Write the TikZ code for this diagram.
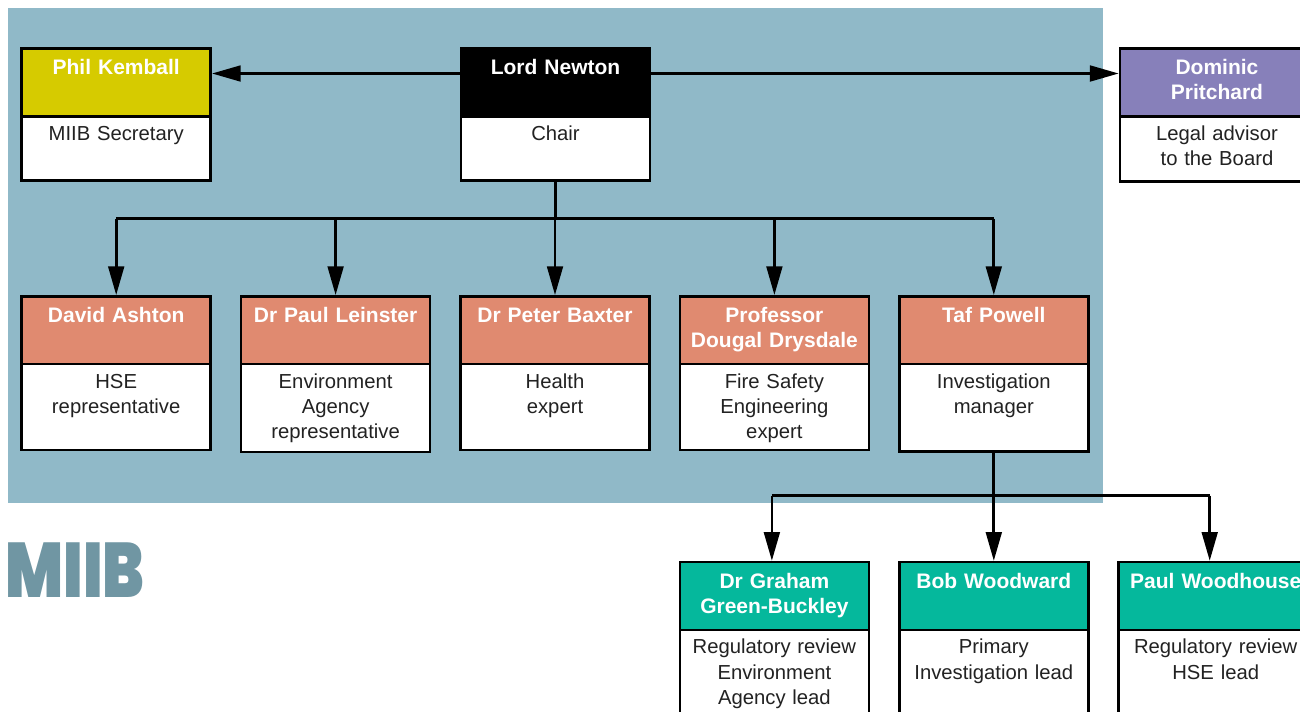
\documentclass[tikz,border=0pt]{standalone}
\usepackage{fontspec}
\setmainfont{Liberation Sans}
\newfontfamily\logofont[FakeStretch=0.79]{Poppins Black}
\usetikzlibrary{positioning,arrows.meta}
\definecolor{panelblue}{HTML}{90B9C8}
\definecolor{logoblue}{HTML}{7096A3}
\definecolor{chairblack}{HTML}{000000}
\definecolor{secyellow}{HTML}{D6CB00}
\definecolor{legalpurple}{HTML}{8780BA}
\definecolor{boardsalmon}{HTML}{E08A70}
\definecolor{leadteal}{HTML}{05B89C}
\definecolor{bodygrey}{HTML}{222222}

\begin{document}
\begin{tikzpicture}[x=0.75pt,y=-0.75pt,>={Triangle[length=21.5pt,width=11.8pt]},
    link/.style={line width=2pt},
    arrow/.style={link,->},
    namebox/.style={draw,line width=2pt,inner sep=0pt,text width=141.75pt,align=center,
        text=white,font=\bfseries\fontsize{15.75}{19}\selectfont,text height=19.5pt,text depth=31.3pt},
    rolebox/.style={draw,fill=white,line width=2pt,inner sep=0pt,text width=141.75pt,align=center,
        text=bodygrey,font=\fontsize{15.2}{19}\selectfont,text height=18.1pt,text depth=#1},
    rolebox/.default=46.4pt,
    lastcol/.style={text width=145.5pt}]
    \clip (0,0) rectangle (1300,711);
    \fill[panelblue] (8,8) rectangle (1103,503);

    % top row
    \node[namebox,fill=secyellow] (kemball) at (116.2,82.5) {Phil Kemball};
    \node[rolebox=29.9pt,below=-2pt of kemball] (kemballrole) {MIIB Secretary};
    \node[namebox,fill=chairblack,right=185.75pt of kemball] (newton) {Lord Newton};
    \node[rolebox=29.9pt,below=-2pt of newton] (newtonrole) {Chair};
    \node[namebox,lastcol,fill=legalpurple,right=350.45pt of newton] (pritchard) {Dominic\\Pritchard};
    \node[rolebox=30.6pt,lastcol,below=-2pt of pritchard] (pritchardrole) {Legal advisor\hspace*{4.5pt}\\to the Board};

    % board members
    \node[namebox,fill=boardsalmon,below=133pt of kemball] (ashton) {David Ashton};
    \node[rolebox,below=-2pt of ashton] (ashtonrole) {HSE\\representative};
    \node[namebox,fill=boardsalmon,right=20.8pt of ashton] (leinster) {Dr Paul Leinster};
    \node[rolebox=47.9pt,below=-2pt of leinster] (leinsterrole) {Environment\\Agency\\representative};
    \node[namebox,fill=boardsalmon,right=20.8pt of leinster] (baxter) {Dr Peter Baxter};
    \node[rolebox,below=-2pt of baxter] (baxterrole) {Health\hspace*{4.5pt}\\expert};
    \node[namebox,fill=boardsalmon,right=20.8pt of baxter] (drysdale) {Professor\hspace*{4.5pt}\\Dougal Drysdale};
    \node[rolebox,below=-2pt of drysdale] (drysdalerole) {Fire Safety\\Engineering\\expert};
    \node[namebox,fill=boardsalmon,right=20.8pt of drysdale] (powell) {Taf Powell};
    \node[rolebox=47.2pt,below=-2pt of powell] (powellrole) {Investigation\\manager};

    % investigation leads
    \node[namebox,fill=leadteal,below=146.5pt of drysdale] (green) {Dr Graham\\Green-Buckley};
    \node[rolebox=75pt,below=-2pt of green] (greenrole) {Regulatory review\\Environment\hspace*{4.5pt}\\Agency lead};
    \node[namebox,fill=leadteal,right=20.8pt of green] (woodward) {Bob Woodward};
    \node[rolebox=75pt,below=-2pt of woodward] (woodwardrole) {Primary\\Investigation lead};
    \node[namebox,lastcol,fill=leadteal,right=20.8pt of woodward] (woodhouse) {Paul Woodhouse};
    \node[rolebox=75pt,lastcol,below=-2pt of woodhouse] (woodhouserole) {Regulatory review\\HSE lead};

    \node[anchor=base west,inner sep=0pt,text=logoblue,font=\logofont\fontsize{58}{60}\selectfont] (logo) at (5,597) {MIIB};

    \coordinate (topline) at (556,73.5);
    \coordinate (boardbus) at (556,218.5);
    \coordinate (leadbus) at (993,495.5);

    \draw[arrow] (newton.west |- topline) -- (kemball.east |- topline);
    \draw[arrow] (newton.east |- topline) -- (pritchard.west |- topline);

    \draw[link] (newtonrole.south) -- (newtonrole.south |- boardbus);
    \draw[link] (ashton.north |- boardbus) -- (powell.north |- boardbus);
    \foreach \member in {ashton,leinster,baxter,drysdale,powell}
        \draw[arrow] (\member.north |- boardbus) -- (\member.north);

    \draw[link] (powellrole.south) -- (powellrole.south |- leadbus);
    \draw[link] ([xshift=-1.9pt]green.north |- leadbus) -- ([xshift=-4.5pt]woodhouse.north |- leadbus);
    \draw[arrow] ([xshift=-1.9pt]green.north |- leadbus) -- ([xshift=-1.9pt]green.north);
    \draw[arrow] (woodward.north |- leadbus) -- (woodward.north);
    \draw[arrow] ([xshift=-4.5pt]woodhouse.north |- leadbus) -- ([xshift=-4.5pt]woodhouse.north);
\end{tikzpicture}
\end{document}
